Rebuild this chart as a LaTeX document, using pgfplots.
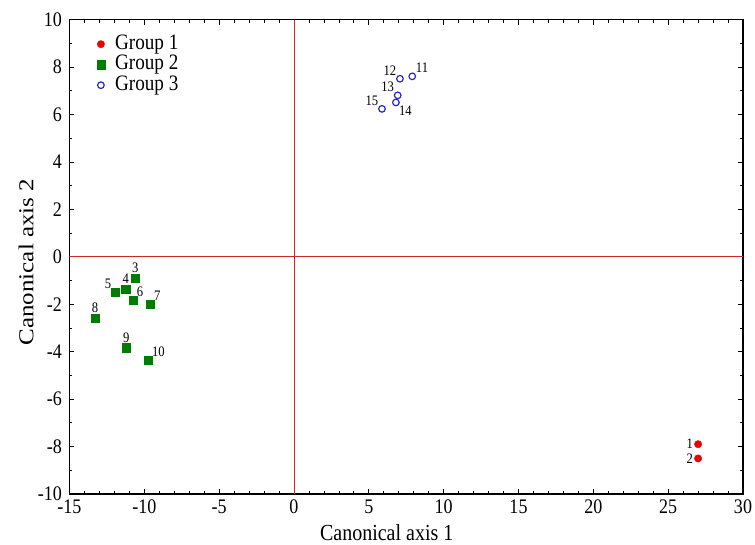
\documentclass[border=0pt]{standalone}
\usepackage{pgfplots}
\pgfplotsset{compat=1.18}
\usepackage{fontspec}
\setmainfont{Liberation Serif}
\newfontfamily\narrow[FakeStretch=0.87]{Liberation Serif}
\definecolor{gone}{RGB}{240,0,0}
\definecolor{gtwo}{RGB}{0,125,0}
\definecolor{gthree}{RGB}{40,40,200}
\definecolor{refline}{RGB}{205,40,40}
\pgfplotsset{labelled/.style 2 args={
  forget plot, only marks, mark=none,
  point meta=explicit symbolic,
  nodes near coords,
  every node near coord/.style={anchor=#1, font=\narrow\fontsize{14.5}{15}\selectfont, inner sep=#2, text=black},
}}
\begin{document}
\begin{tikzpicture}
\begin{axis}[
  scale only axis,
  width=673.5pt, height=474.3pt,
  xmin=-15, xmax=30, ymin=-10, ymax=10,
  xtick={-15,-10,...,30}, ytick={-10,-8,...,10},
  minor x tick num=4, minor y tick num=1,
  tick align=inside, major tick length=5pt, minor tick length=3pt,
  tick style={black, line width=0.8pt},
  axis line style={line width=1.6pt},
  /pgf/number format/assume math mode=true,
  ticklabel style={font=\narrow\fontsize{20.7}{21}\selectfont},
  xticklabel style={inner xsep=0pt, inner ysep=6pt},
  yticklabel style={inner xsep=7.5pt, inner ysep=0pt},
  xlabel={Canonical axis 1},
  ylabel={\scalebox{1}[0.85]{Canonical axis 2}},
  xlabel style={at={(axis description cs:0.471,-0.0985)}, anchor=base, inner sep=0pt,
    font=\narrow\fontsize{23}{23}\selectfont},
  ylabel style={at={(axis description cs:-0.0535,0.489)}, anchor=base, inner sep=0pt,
    font=\fontsize{25}{25}\selectfont},
  legend style={draw=none, fill=none, at={(axis description cs:0.0401,0.9704)}, anchor=north west,
    font=\narrow\fontsize{22}{22}\selectfont, row sep=0pt, inner sep=0pt,
    nodes={text height=14.5pt, text depth=4pt, inner ysep=1pt, inner xsep=1pt}},
  legend cell align=left,
]
\addplot[refline, line width=0.9pt, forget plot, mark=none] coordinates {(0,-10) (0,10)};
\addplot[refline, line width=0.9pt, forget plot, mark=none] coordinates {(-15,0) (30,0)};
\addplot[only marks, mark=*, mark size=3.7pt, color=gone] coordinates {(27.0,-7.9) (27.0,-8.5)};
\addlegendentry{\hspace{9pt}Group 1}
\addplot[only marks, mark=square*, mark size=4.2pt, color=gtwo] coordinates {
(-10.6,-0.90) (-11.24,-1.36) (-11.96,-1.48) (-10.75,-1.84) (-9.6,-2.0) (-13.3,-2.59) (-11.2,-3.83) (-9.73,-4.35)};
\addlegendentry{\hspace{9pt}Group 2}
\addplot[only marks, mark=o, mark size=3.3pt, line width=1.2pt, color=gthree] coordinates {
(7.9,7.61) (7.08,7.51) (6.93,6.81) (6.81,6.51) (5.88,6.24)};
\addlegendentry{\hspace{9pt}Group 3}
\addplot[labelled={east}{5pt}] coordinates {(27.0,-7.9)[1] (27.0,-8.5)[2]};
\addplot[labelled={south}{5pt}] coordinates {(-10.6,-0.90)[3] (-11.24,-1.36)[4] (-13.3,-2.59)[8] (-11.2,-3.83)[9]};
\addplot[labelled={south east}{3.5pt}] coordinates {(-11.96,-1.48)[5] (7.08,7.51)[12] (6.93,6.81)[13] (5.88,6.24)[15]};
\addplot[labelled={south west}{3.5pt}] coordinates {(-10.75,-1.84)[6] (-9.6,-2.0)[7] (-9.73,-4.35)[10] (7.9,7.61)[11]};
\addplot[labelled={north west}{3pt}] coordinates {(6.81,6.51)[14]};
\end{axis}
\path (current axis.south west) ++(-69.5pt,-51pt) coordinate (bbA);
\path (current axis.north east) ++(12pt,19.7pt) coordinate (bbB);
\path (bbA) rectangle (bbB);
\end{tikzpicture}
\end{document}
